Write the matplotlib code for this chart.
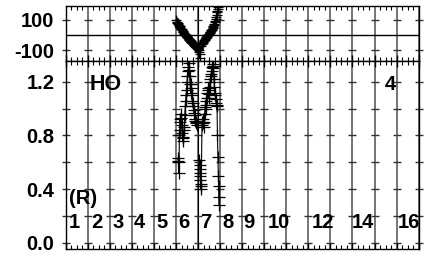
import matplotlib

matplotlib.use("Agg")
import matplotlib.pyplot as plt
import numpy as np
from matplotlib.ticker import MultipleLocator

# light curve, two pulses (phase, relative flux)
phase_a = [5.08, 5.10, 5.12, 5.14, 5.15, 5.17, 5.18, 5.20, 5.22, 5.24, 5.26, 5.28, 5.30,
           5.32, 5.34, 5.36, 5.38, 5.40, 5.42, 5.44, 5.46, 5.48, 5.50, 5.52, 5.54, 5.56,
           5.58, 5.60, 5.62, 5.64, 5.66, 5.68, 5.70, 5.72, 5.74, 5.76, 5.78, 5.80, 5.82,
           5.84, 5.86, 5.88, 5.90, 5.92, 5.94]
flux_a = [0.63, 0.61, 0.60, 0.52, 0.80, 0.84, 0.92, 0.90, 0.96, 0.93, 0.88, 0.82, 0.78,
          0.76, 0.79, 0.84, 0.86, 0.95, 1.02, 1.06, 1.10, 1.14, 1.20, 1.24, 1.28, 1.31,
          1.34, 1.29, 1.24, 1.18, 1.12, 1.15, 1.18, 1.10, 1.06, 1.04, 1.02, 0.99, 0.97,
          0.95, 0.92, 0.91, 0.90, 0.89, 0.88]
phase_b = [6.06, 6.07, 6.08, 6.09, 6.10, 6.11, 6.12, 6.13, 6.14, 6.18, 6.20, 6.22, 6.24,
           6.26, 6.28, 6.30, 6.32, 6.34, 6.36, 6.38, 6.40, 6.42, 6.44, 6.46, 6.48, 6.50,
           6.52, 6.54, 6.56, 6.58, 6.60, 6.62, 6.64, 6.66, 6.68, 6.70, 6.72, 6.74, 6.76,
           6.78, 6.80, 6.82, 6.84, 6.86, 6.88, 6.90, 6.92, 6.93, 6.94, 6.95]
flux_b = [0.62, 0.58, 0.55, 0.52, 0.50, 0.47, 0.44, 0.42, 0.40, 0.88, 0.90, 0.92, 0.89,
          0.86, 0.90, 0.96, 1.01, 1.06, 1.03, 1.00, 1.08, 1.12, 1.14, 1.15, 1.11, 1.08,
          1.16, 1.20, 1.22, 1.24, 1.26, 1.28, 1.31, 1.33, 1.32, 1.30, 1.22, 1.16, 1.12,
          1.10, 1.07, 1.04, 1.03, 1.02, 0.80, 0.64, 0.50, 0.42, 0.34, 0.28]

# residuals in the upper panel
res_phase = [5.02, 5.04, 5.06, 5.08, 5.10, 5.12, 5.14, 5.16, 5.18, 5.20, 5.22, 5.24,
             5.26, 5.28, 5.30, 5.32, 5.34, 5.36, 5.38, 5.40, 5.42, 5.44, 5.46, 5.48,
             5.50, 5.52, 5.54, 5.56, 5.58, 5.60, 5.62, 5.64, 5.66, 5.68, 5.70, 5.72,
             5.74, 5.76, 5.78, 5.80, 5.82, 5.84, 5.86, 5.88, 5.90, 5.92, 5.94, 5.96,
             5.98, 6.00, 6.02, 6.04, 6.06, 6.08, 6.10,
             6.14, 6.16, 6.18, 6.20, 6.22, 6.24, 6.26, 6.28, 6.30, 6.32, 6.34, 6.36,
             6.38, 6.40, 6.42, 6.44, 6.46, 6.48, 6.50, 6.52, 6.54, 6.56, 6.58, 6.60,
             6.62, 6.64, 6.66, 6.68, 6.70, 6.72, 6.74, 6.76, 6.78, 6.80, 6.82, 6.84,
             6.86, 6.88, 6.90, 6.92]
res_value = [98, 88, 80, 78, 72, 65, 60, 58, 55, 46, 40, 40,
             38, 30, 25, 22, 18, 14, 10, 6, 2, -2, -5, -8,
             -12, -16, -20, -22, -25, -30, -35, -38, -40, -44, -48, -52,
             -55, -56, -58, -62, -65, -68, -70, -74, -78, -79, -80, -84,
             -88, -90, -92, -100, -110, -150, -125,
             -70, -62, -55, -52, -50, -45, -40, -35, -30, -26, -22, -18,
             -15, -10, -5, -2, 2, 6, 10, 14, 18, 22, 28, 32,
             35, 40, 48, 52, 60, 66, 75, 85, 95, 108, 120, 135,
             150, 158, 170, 185]

flux_ticks = [0.0, 0.4, 0.8, 1.2]
res_ticks = [100, -100]
dash_levels = [0.0, 0.2, 0.4, 0.6, 0.8, 1.0, 1.2]

# numbers written across the lower panel
order_labels = ["1", "2", "3", "4", "5", "6", "7", "8", "9", "10", "12", "14", "16"]
order_pos = [0.15, 1.15, 2.1, 3.1, 4.1, 5.1, 6.1, 7.1, 8.05, 9.15, 11.15, 12.95, 15.05]

plt.rcParams["font.family"] = ["Liberation Sans", "DejaVu Sans"]
plt.rcParams["font.weight"] = "bold"
plt.rcParams["font.size"] = 14.5

fig = plt.figure(figsize=(4.25, 2.58), dpi=100)
left, right = 0.1546, 0.985
ax_top = fig.add_axes([left, 0.7636, right - left, 0.2131])
ax = fig.add_axes([left, 0.0349, right - left, 0.7287])

grid_x = np.arange(0, 17)

for a in (ax_top, ax):
    a.set_xlim(0, 16)
    for gx in grid_x:
        a.axvline(gx, color="#6a6a6a", lw=1.3, zorder=0)
    a.axvline(6, color="black", lw=0.8, zorder=0.5)
    a.xaxis.set_major_locator(MultipleLocator(1))
    a.xaxis.set_minor_locator(MultipleLocator(0.25))
    a.tick_params(axis="x", which="both", direction="in", top=True, bottom=True,
                  labelbottom=False, color="black")
    a.tick_params(axis="x", which="major", length=4, width=1)
    a.tick_params(axis="x", which="minor", length=3, width=0.8)
    a.tick_params(axis="y", length=0, pad=8)
    for s in a.spines.values():
        s.set_linewidth(1)

# upper panel: residuals
ax_top.set_ylim(-173, 193)
ax_top.axhline(0, color="black", lw=1, zorder=1)
for lvl in res_ticks:
    ax_top.plot(grid_x, [lvl] * len(grid_x), ls="none", marker="_", ms=5.5,
                mew=1, color="#333333", clip_on=False, zorder=1)
ax_top.plot(res_phase, res_value, color="black", lw=0.8, marker="+", ms=7, mew=0.9,
            zorder=3)
ax_top.set_yticks(res_ticks)
ax_top.set_yticklabels([str(v) for v in res_ticks])
ax_top.tick_params(axis="x", top=False)

# lower panel: light curve
ax.set_ylim(-0.047, 1.355)
for lvl in dash_levels:
    ax.plot(grid_x, [lvl] * len(grid_x), ls="none", marker="_", ms=5.5,
            mew=1, color="#333333", clip_on=False, zorder=1)
for ph, fl in ((phase_a, flux_a), (phase_b, flux_b)):
    ax.plot(ph, fl, color="black", lw=0.8, marker="+", ms=8, mew=0.9, zorder=3)
ax.set_yticks(flux_ticks)
ax.set_yticklabels([f"{v:.1f}" for v in flux_ticks])

for lab, pos in zip(order_labels, order_pos):
    ax.text(pos, 0.15, lab, ha="left", va="center", fontweight="bold", zorder=4)
ax.text(0.15, 0.33, "(R)", ha="left", va="center", fontweight="bold")
ax.text(1.1, 1.18, "HO", ha="left", va="center", fontsize=15.5, fontweight="bold")
ax.text(14.45, 1.18, "4", ha="left", va="center", fontweight="bold")

fig.savefig("out.png", dpi=100)
